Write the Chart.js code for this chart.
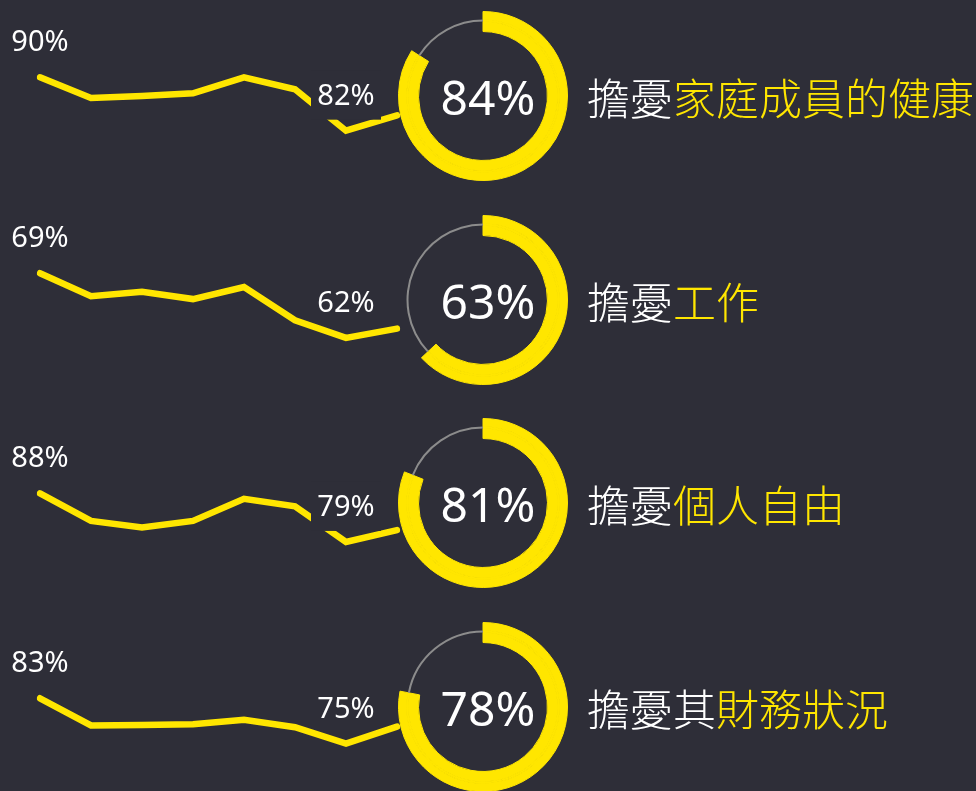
<!DOCTYPE html>
<html>
<head>
<meta charset="utf-8">
<script src="https://cdn.jsdelivr.net/npm/chart.js@4.4.1/dist/chart.umd.min.js"></script>
<style>
  body { margin: 0; background: #2e2e38; width: 976px; height: 791px; overflow: hidden; position: relative; font-family: "Noto Sans", sans-serif; }
  .row { position: absolute; left: 0; width: 976px; height: 204px; }
  .row canvas { position: absolute; }
  .pct { position: absolute; left: 397px; width: 182px; text-align: center; color: #fff; font-size: 48px; line-height: 1; }
  .topic { position: absolute; left: 587px; color: #fff; font-family: "Noto Sans CJK TC", sans-serif; font-size: 43px; font-weight: 300; line-height: 1; white-space: nowrap; }
  .topic span { color: #ffe600; }
</style>
</head>
<body>
<script>
// survey waves (not labelled in the picture)
const waves = ['W1', 'W2', 'W3', 'W4', 'W5', 'W6', 'W7', 'W8']
const prefixes = ['擔憂', '擔憂', '擔憂', '擔憂其']
const topics = ['家庭成員的健康', '工作', '個人自由', '財務狀況']
const latestShare = [84, 63, 81, 78]
const healthTrend = [90, 86.9, 87.2, 87.6, 90, 88.2, 82, 84.3]
const jobTrend = [69, 66.5, 67, 66.2, 67.5, 63.9, 62, 63]
const freedomTrend = [88, 82.9, 81.7, 82.9, 87, 85.6, 79, 81.2]
const financeTrend = [83, 78.2, 78.3, 78.4, 79.2, 77.9, 75, 78]

const trends = [healthTrend, jobTrend, freedomTrend, financeTrend]

const YELLOW = '#ffe600'
const GREY = '#8c8c8c'
const BG = '#2e2e38'

// each sparkline gets its own y range so the rows keep their own shape
const yRange = [[71.0, 101.6], [54.4, 76.5], [66.2, 104.0], [62.4, 98.4]]
const boxedLow = [true, false, true, false]
const rowTop = [0, 204, 407, 611]

const pointLabels = {
  id: 'pointLabels',
  afterDatasetsDraw(chart, args, opts) {
    const { ctx } = chart
    const meta = chart.getDatasetMeta(0)
    const values = chart.data.datasets[0].data
    const low = values.indexOf(Math.min(...values))
    ctx.save()
    ctx.font = '29px "Noto Sans"'
    ctx.textAlign = 'center'
    ;[0, low].forEach(i => {
      const { x, y } = meta.data[i]
      if (i === low && opts.boxed) {
        ctx.fillStyle = BG
        ctx.fillRect(x - 35, y - 60, 70, 49)
      }
      ctx.fillStyle = '#fff'
      ctx.fillText(Math.round(values[i]) + '%', x, y - 26)
    })
    ctx.restore()
  }
}

function makeCanvas(parent, w, h, left, top) {
  const c = document.createElement('canvas')
  c.width = w
  c.height = h
  c.style.left = left + 'px'
  c.style.top = top + 'px'
  parent.appendChild(c)
  return c.getContext('2d')
}

function ring(value, weight, rest) {
  return {
    data: [value, 100 - value],
    backgroundColor: [YELLOW, rest],
    borderColor: [YELLOW, rest],
    borderWidth: [1, 0],
    weight: weight
  }
}

trends.forEach((trend, r) => {
  const row = document.createElement('div')
  row.className = 'row'
  row.style.top = rowTop[r] + 'px'
  document.body.appendChild(row)

  new Chart(makeCanvas(row, 440, 204, 0, 0), {
    type: 'line',
    data: {
      labels: waves,
      datasets: [{
        data: trend,
        borderColor: YELLOW,
        borderWidth: 6.5,
        borderCapStyle: 'round',
        pointRadius: 0,
        tension: 0
      }]
    },
    options: {
      responsive: false,
      animation: false,
      events: [],
      layout: { padding: { left: 40, right: 43, top: 0, bottom: 0 } },
      scales: {
        x: { display: false, offset: false },
        y: { display: false, min: yRange[r][0], max: yRange[r][1] }
      },
      plugins: {
        legend: { display: false },
        tooltip: { enabled: false },
        pointLabels: { boxed: boxedLow[r] }
      }
    },
    plugins: [pointLabels]
  })

  const v = latestShare[r]
  new Chart(makeCanvas(row, 172, 172, 397, 10), {
    type: 'doughnut',
    data: {
      labels: ['yes', 'no'],
      datasets: [ring(v, 8, 'transparent'), ring(v, 2, GREY), ring(v, 10, 'transparent')]
    },
    options: {
      responsive: false,
      animation: false,
      events: [],
      radius: 84.5,
      cutout: '76.3%',
      hoverOffset: 0,
      plugins: { legend: { display: false }, tooltip: { enabled: false } }
    }
  })

  const pct = document.createElement('div')
  pct.className = 'pct'
  pct.style.top = '73px'
  pct.textContent = v + '%'
  row.appendChild(pct)

  const topic = document.createElement('div')
  topic.className = 'topic'
  topic.style.top = '75px'
  topic.innerHTML = prefixes[r] + '<span>' + topics[r] + '</span>'
  row.appendChild(topic)
})
</script>
</body>
</html>
